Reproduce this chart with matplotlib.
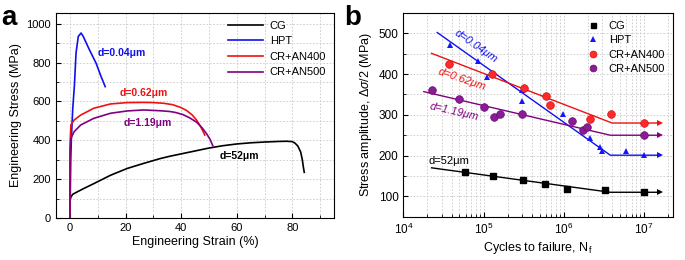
import numpy as np
import matplotlib
matplotlib.use("Agg")
import matplotlib.pyplot as plt
from matplotlib.ticker import MultipleLocator, LogLocator, NullFormatter

plt.rcParams['font.family'] = ['Liberation Sans', 'DejaVu Sans']
plt.rcParams['mathtext.fontset'] = 'custom'
plt.rcParams['mathtext.rm'] = 'Liberation Sans'
plt.rcParams['mathtext.it'] = 'Liberation Sans:italic'
plt.rcParams['mathtext.bf'] = 'Liberation Sans:bold'

# ---------------- Panel a: tensile curves ----------------
cg_strain = [0, 0.05, 0.35, 1.0, 2.7, 5, 8.6, 14.6, 20.6, 26.5, 32.5, 36, 40, 45, 50, 55, 60, 65, 70, 75, 78, 80, 81, 82, 83, 83.6, 84, 84.3]
cg_stress = [0, 91, 108, 122, 135, 152, 177, 220, 255, 281, 306, 318, 330, 345, 360, 372, 381, 387, 391, 394, 395, 393, 385, 370, 340, 300, 260, 235]

hpt_strain = [0, 0.3, 0.5, 1.0, 1.6, 2.2, 3.0, 4.0, 4.8, 7.0, 9.4, 11.2, 12.7]
hpt_stress = [0, 300, 400, 560, 680, 850, 934, 952, 934, 866, 797, 728, 676]

an400_strain = [0, 0.1, 0.35, 1.5, 3.9, 8.6, 14.6, 20.6, 26.5, 30, 34, 37, 40, 42, 44, 45.5, 46.7, 47.7, 48.5]
an400_stress = [0, 400, 479, 504, 530, 565, 587, 594, 595, 594, 590, 583, 568, 553, 530, 505, 478, 452, 427]

an500_strain = [0, 0.05, 0.36, 1.5, 3.9, 8.6, 14.6, 20.6, 26.5, 32.5, 36, 38, 40.7, 43, 45.5, 47.5, 49.1, 50.4, 51.4]
an500_stress = [0, 350, 410, 444, 479, 513, 539, 551, 556, 552, 548, 543, 532, 516, 494, 465, 435, 405, 372]

# ---------------- Panel b: fatigue data ----------------
cg_N = [5.9e4, 1.32e5, 3.1e5, 5.9e5, 1.1e6, 3.3e6, 1.0e7]
cg_S = [160, 151, 141, 131, 119, 116, 110]
hpt_N = [3.8e4, 8.6e4, 1.1e5, 3.0e5, 3.0e5, 9.7e5, 2.1e6, 2.8e6, 3.0e6, 6.0e6, 1.0e7]
hpt_S = [471, 432, 393, 362, 333, 303, 243, 221, 211, 211, 201]
an400_N = [3.7e4, 1.26e5, 3.2e5, 6.0e5, 6.7e5, 2.1e6, 3.9e6, 1.0e7]
an400_S = [426, 400, 365, 346, 325, 291, 301, 280]
an500_N = [2.3e4, 4.9e4, 1.0e5, 1.35e5, 1.6e5, 3.0e5, 1.26e6, 1.75e6, 1.95e6, 1.0e7]
an500_S = [361, 340, 320, 295, 301, 301, 285, 262, 270, 250]

# fitted lines (start, knee, end)
cg_fitN = [2.25e4, 3.8e6, 1.6e7]
cg_fitS = [170, 110, 110]
hpt_fitN = [2.65e4, 3.8e6, 1.6e7]
hpt_fitS = [502, 201, 201]
an400_fitN = [2.25e4, 4.0e6, 1.6e7]
an400_fitS = [451, 280, 280]
an500_fitN = [1.8e4, 3.8e6, 1.6e7]
an500_fitS = [357, 250, 250]

labels = ['CG', 'HPT', 'CR+AN400', 'CR+AN500']
c_cg, c_hpt, c_400, c_500 = 'black', '#1010ee', '#ee1111', '#800080'

fig = plt.figure(figsize=(6.85, 2.6), dpi=100)
axa = fig.add_axes([0.0818, 0.1615, 0.4058, 0.7885])
axb = fig.add_axes([0.5888, 0.1665, 0.3937, 0.7835])

grid_kw = dict(color='#c8c8c8', linestyle=(0, (2, 2)), linewidth=0.6)

# Panel a
axa.plot(cg_strain, cg_stress, color=c_cg, lw=1.2, label=labels[0])
axa.plot(hpt_strain, hpt_stress, color=c_hpt, lw=1.2, label=labels[1])
axa.plot(an400_strain, an400_stress, color=c_400, lw=1.2, label=labels[2])
axa.plot(an500_strain, an500_stress, color=c_500, lw=1.2, label=labels[3])
axa.set_xlim(-5, 95)
axa.set_ylim(0, 1055)
axa.xaxis.set_major_locator(MultipleLocator(20))
axa.xaxis.set_minor_locator(MultipleLocator(10))
axa.yaxis.set_major_locator(MultipleLocator(200))
axa.yaxis.set_minor_locator(MultipleLocator(100))
axa.grid(True, which='both', **grid_kw)
axa.set_axisbelow(True)
axa.tick_params(which='both', direction='in', labelsize=8)
axa.tick_params(which='major', length=3.5)
axa.tick_params(which='minor', length=2)
axa.set_xlabel('Engineering Strain (%)', fontsize=9, labelpad=2)
axa.set_ylabel('Engineering Stress (MPa)', fontsize=9, labelpad=3)
axa.legend(loc='upper right', bbox_to_anchor=(1.0, 1.0), frameon=False, fontsize=8,
           handlelength=3.2, labelspacing=0.5, borderaxespad=0.3, handletextpad=0.6)
axa.text(9.8, 849, 'd=0.04μm', color=c_hpt, fontsize=7.5, fontweight='bold', va='center', ha='left')
axa.text(17.8, 642, 'd=0.62μm', color=c_400, fontsize=7.5, fontweight='bold', va='center', ha='left')
axa.text(19.3, 490, 'd=1.19μm', color=c_500, fontsize=7.5, fontweight='bold', va='center', ha='left')
axa.text(53.8, 320, 'd=52μm', color='black', fontsize=7.5, fontweight='bold', va='center', ha='left')

# Panel b
for fN, fS, c in [(cg_fitN, cg_fitS, c_cg), (hpt_fitN, hpt_fitS, c_hpt),
                  (an400_fitN, an400_fitS, c_400), (an500_fitN, an500_fitS, c_500)]:
    axb.plot(fN[:-1] + [fN[-1] * 0.9], fS, color=c, lw=1.0)
    axb.plot([fN[-1]], [fS[-1]], marker='>', color=c, ms=5, mew=0)

axb.plot(cg_N, cg_S, 's', color='black', ms=4, label=labels[0])
axb.plot(hpt_N, hpt_S, '^', color='#1515ff', ms=5, mew=0, label=labels[1])
axb.plot(an400_N, an400_S, 'o', mfc='#ff2a2a', mec='#d01010', mew=0.5, ms=5.5, label=labels[2])
axb.plot(an500_N, an500_S, 'o', mfc='#8a1c96', mec='#6a0a70', mew=0.5, ms=5.5, label=labels[3])
axb.set_xscale('log')
axb.set_xlim(1e4, 2.3e7)
axb.set_ylim(50, 550)
axb.xaxis.set_major_locator(LogLocator(base=10, numticks=10))
axb.xaxis.set_minor_locator(LogLocator(base=10, subs=np.arange(2, 10), numticks=20))
axb.xaxis.set_minor_formatter(NullFormatter())
axb.yaxis.set_major_locator(MultipleLocator(100))
axb.yaxis.set_minor_locator(MultipleLocator(50))
axb.grid(True, which='both', **grid_kw)
axb.set_axisbelow(True)
axb.tick_params(which='both', direction='in', labelsize=8.5)
axb.tick_params(which='major', length=3.5)
axb.tick_params(which='minor', length=2)
axb.set_xlabel('Cycles to failure, N$_\\mathrm{f}$', fontsize=9, labelpad=2)
axb.set_ylabel('Stress amplitude, $\\Delta\\it{\\sigma}$/2 (MPa)', fontsize=9, labelpad=3)
axb.legend(loc='upper right', bbox_to_anchor=(1.0, 1.0), frameon=False, fontsize=8,
           handlelength=1.0, labelspacing=0.4, borderaxespad=0.3, handletextpad=0.9,
           markerscale=0.9)
axb.text(8.0e4, 468, 'd=0.04μm', color=c_hpt, fontsize=8, style='italic', rotation=-35,
         ha='center', va='center', rotation_mode='anchor')
axb.text(5.35e4, 387, 'd=0.62μm', color=c_400, fontsize=8, style='italic', rotation=-19,
         ha='center', va='center', rotation_mode='anchor')
axb.text(4.3e4, 307, 'd=1.19μm', color=c_500, fontsize=8, style='italic', rotation=-13,
         ha='center', va='center', rotation_mode='anchor')
axb.text(3.7e4, 186, 'd=52μm', color='black', fontsize=8, ha='center', va='center')

fig.text(0.002, 0.905, 'a', fontsize=20, fontweight='bold', ha='left', va='baseline')
fig.text(0.503, 0.905, 'b', fontsize=20, fontweight='bold', ha='left', va='baseline')

fig.savefig('out.png', dpi=100)
